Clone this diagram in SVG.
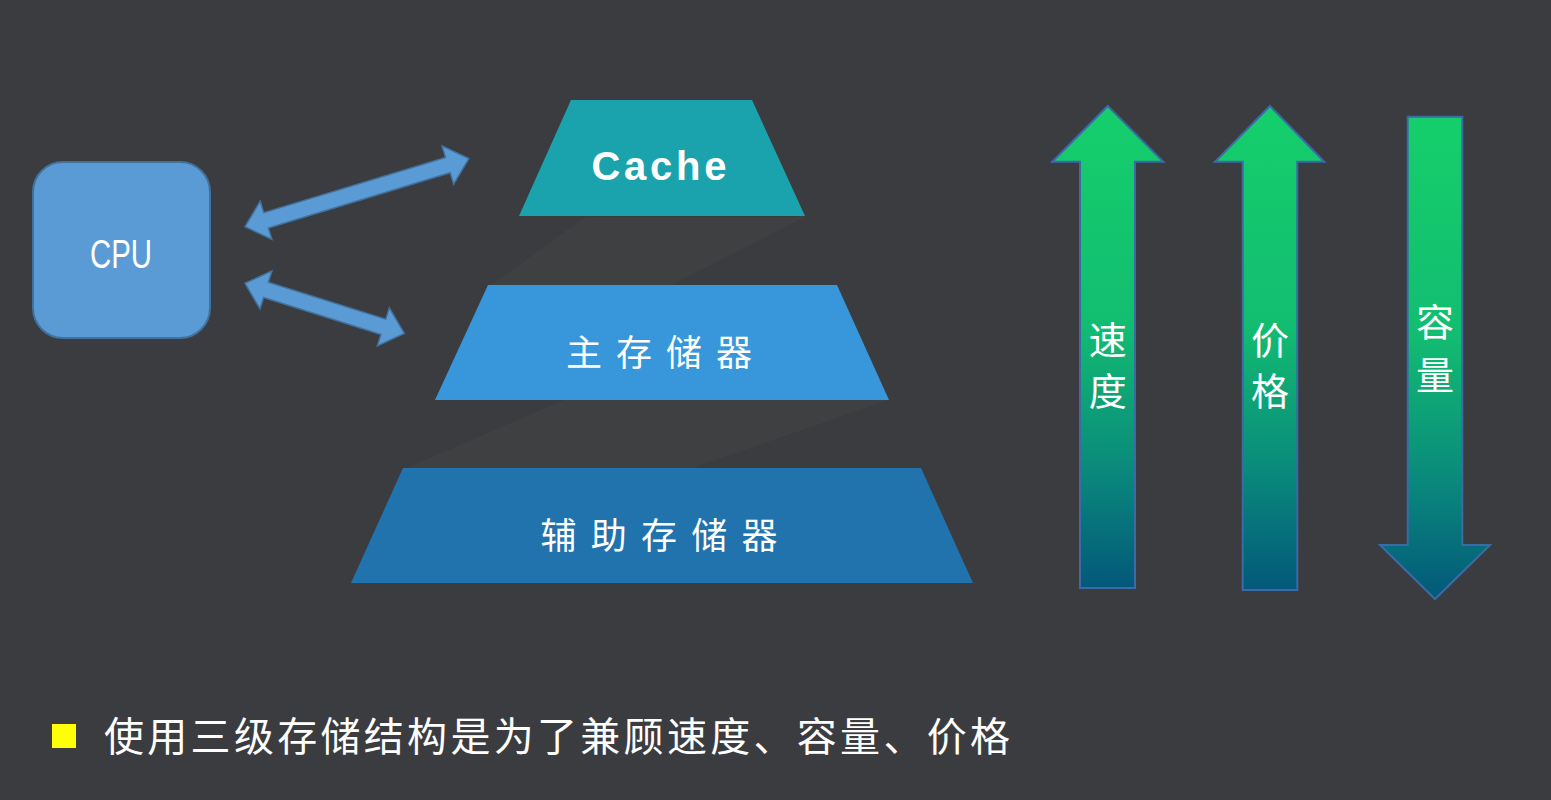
<svg xmlns="http://www.w3.org/2000/svg" width="1551" height="800" viewBox="0 0 1551 800">
<defs>
<style>
.cn{font-family:"Noto Sans CJK SC","Noto Sans",sans-serif;fill:#fff;}
.lbl{font-family:"Liberation Sans","Noto Sans",sans-serif;fill:#fff;}
.dbl{fill:#5b9bd5;stroke:#41719c;stroke-width:1.5;}
.varrow{stroke:#3b6aa6;stroke-width:2;}
</style>
<linearGradient id="g" x1="0" y1="0" x2="0" y2="1">
<stop offset="0" stop-color="#15cf6b"/>
<stop offset="0.45" stop-color="#12bd71"/>
<stop offset="0.75" stop-color="#0a8a7c"/>
<stop offset="1" stop-color="#03587a"/>
</linearGradient>
</defs>
<rect x="0" y="0" width="1551" height="800" fill="#3b3c40"/>

<!-- faint shading between layers -->
<polygon points="585,217 805,217 672,285 491,285" fill="#434343" opacity="0.6"/>
<polygon points="564,400 889,400 693,468 406,468" fill="#434343" opacity="0.6"/>

<g id="cpu">
<rect x="33" y="162" width="177" height="176" rx="30" ry="30" fill="#5b9bd5" stroke="#41719c" stroke-width="2"/>
<text class="lbl" x="121" y="268" font-size="40" text-anchor="middle" textLength="62" lengthAdjust="spacingAndGlyphs">CPU</text>
</g>

<g id="connectors">
<path class="dbl" transform="translate(245,226.7) rotate(-16.9)" d="M0,0 L22,-20 L22,-8 L212,-8 L212,-20 L234,0 L212,20 L212,8 L22,8 L22,20 Z"/>
<path class="dbl" transform="translate(245,283.3) rotate(17.46)" d="M0,0 L22,-20 L22,-8 L145,-8 L145,-20 L167,0 L145,20 L145,8 L22,8 L22,20 Z"/>
</g>

<g id="cache">
<polygon points="571,100 752,100 805,216 519,216" fill="#1ba3ad"/>
<text class="lbl" x="659" y="180" font-size="40" font-weight="bold" text-anchor="middle" textLength="135" lengthAdjust="spacing">Cache</text>
</g>

<g id="main-memory">
<polygon points="488,285 837,285 889,400 435,400" fill="#3797da"/>
<text class="cn" x="659" y="366" font-size="36" text-anchor="middle" textLength="186" lengthAdjust="spacing">主存储器</text>
</g>

<g id="aux-memory">
<polygon points="403,468 921,468 973,583 351,583" fill="#2173ae"/>
<text class="cn" x="659" y="549" font-size="36" text-anchor="middle" textLength="237" lengthAdjust="spacing">辅助存储器</text>
</g>

<g id="speed">
<polygon class="varrow" fill="url(#g)" points="1107.7,106 1163.3,161.7 1135,161.7 1135,588 1080,588 1080,161.7 1052.3,161.7"/>
<text class="cn" x="1107.7" y="354" font-size="38" text-anchor="middle">速</text>
<text class="cn" x="1107.7" y="405" font-size="38" text-anchor="middle">度</text>
</g>

<g id="price">
<polygon class="varrow" fill="url(#g)" points="1270,106 1324.3,161.7 1297.3,161.7 1297.3,590 1242.7,590 1242.7,161.7 1215,161.7"/>
<text class="cn" x="1270" y="354" font-size="38" text-anchor="middle">价</text>
<text class="cn" x="1270" y="405" font-size="38" text-anchor="middle">格</text>
</g>

<g id="capacity">
<polygon class="varrow" fill="url(#g)" points="1407.7,116.7 1462.3,116.7 1462.3,545 1490,545 1435,599 1380,545 1407.7,545"/>
<text class="cn" x="1435" y="336" font-size="38" text-anchor="middle">容</text>
<text class="cn" x="1435" y="389" font-size="38" text-anchor="middle">量</text>
</g>

<g id="note">
<rect x="52" y="724" width="24" height="24" fill="#ffff00"/>
<text class="cn" x="104" y="751" font-size="40" textLength="906" lengthAdjust="spacing">使用三级存储结构是为了兼顾速度、容量、价格</text>
</g>
</svg>
